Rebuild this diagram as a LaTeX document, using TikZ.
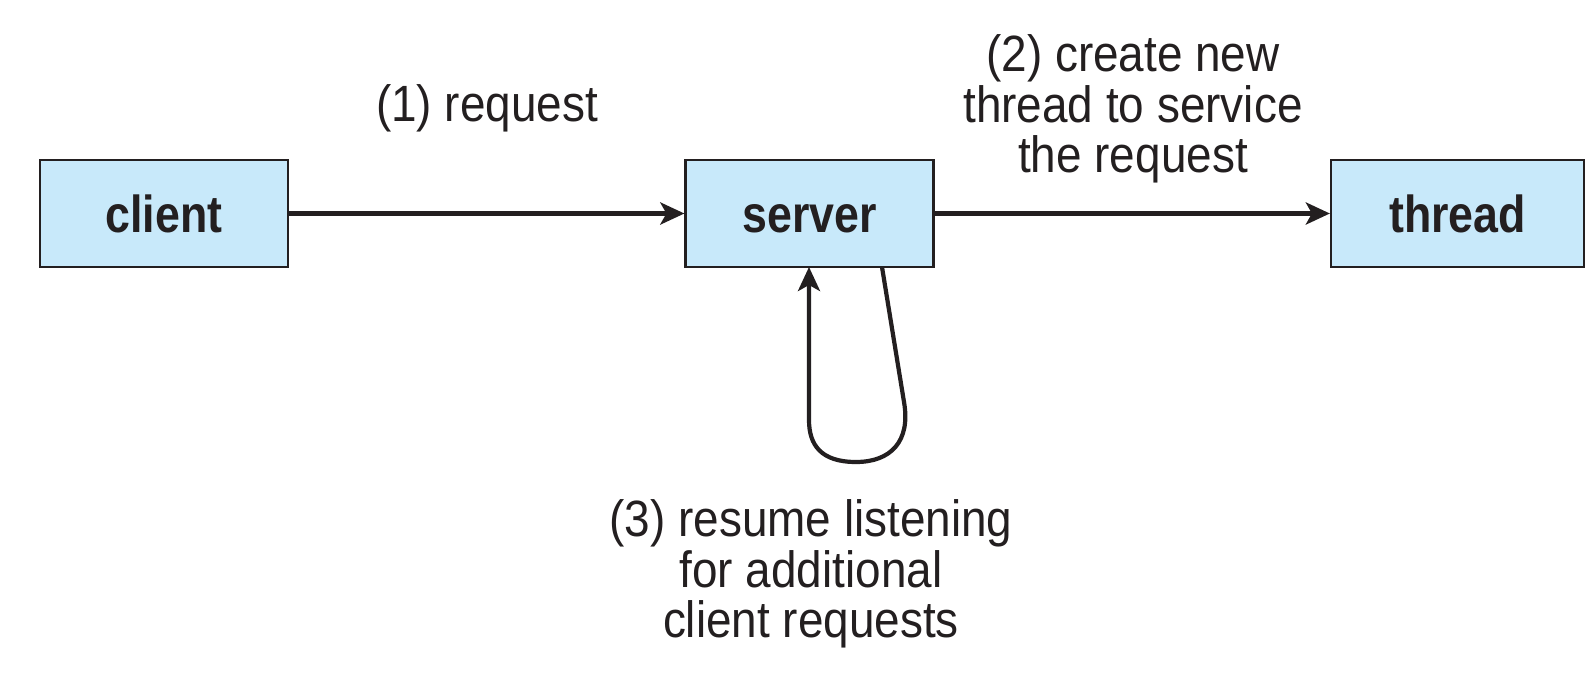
\documentclass[tikz,border=0pt]{standalone}
\usepackage{fontspec}
\setmainfont{Liberation Sans}[FakeStretch=0.9]
\newfontfamily\boxfont{Liberation Sans}[FakeStretch=0.86]
\usetikzlibrary{arrows.meta}
\definecolor{boxfill}{RGB}{200,233,250}
\definecolor{ink}{RGB}{35,31,32}
\tikzset{
  procbox/.style={draw=ink, line width=2.2pt, fill=boxfill, minimum width=248pt,
    minimum height=107pt, inner sep=0pt, text height=39pt, text depth=0pt,
    font=\boxfont\fontsize{52}{56}\selectfont\bfseries, text=ink},
  lbl/.style={align=center, font=\fontsize{51}{50.5}\selectfont, text=ink, inner sep=0pt},
  conn/.style={draw=ink, line width=5pt, -{Stealth[length=24pt,width=22pt,inset=6pt]}},
}
\begin{document}
\begin{tikzpicture}[x=1pt,y=-1pt]
\useasboundingbox (0,0) rectangle (1585,695);
\node[procbox] (client) at (164,213.5) {client};
\node[procbox] (server) at (809.5,213.5) {server};
\node[procbox, minimum width=253pt] (thread) at (1457.5,213.5) {thread};
\node[lbl] (l1) at (487,108) {(1) request};
\node[lbl] (l2) at (1133,109) {(2) create new\\thread to service\\the request};
\node[lbl] (l3) at (811,574) {(3) resume listening\\for additional\\client requests};
\draw[conn] (client) -- (server);
\draw[conn] (server) -- (thread);
\coordinate (s1) at (882,267);
\coordinate (s2) at (904,402);
\coordinate (s3) at (856,462);
\coordinate (s4) at (809,420);
\coordinate (s5) at (809,267);
\draw[conn, line width=4.2pt] (s1) -- (s2) .. controls (911,442) and (890,462) .. (s3)
  .. controls (821,462) and (809,445) .. (s4) -- (s5);
\end{tikzpicture}
\end{document}
